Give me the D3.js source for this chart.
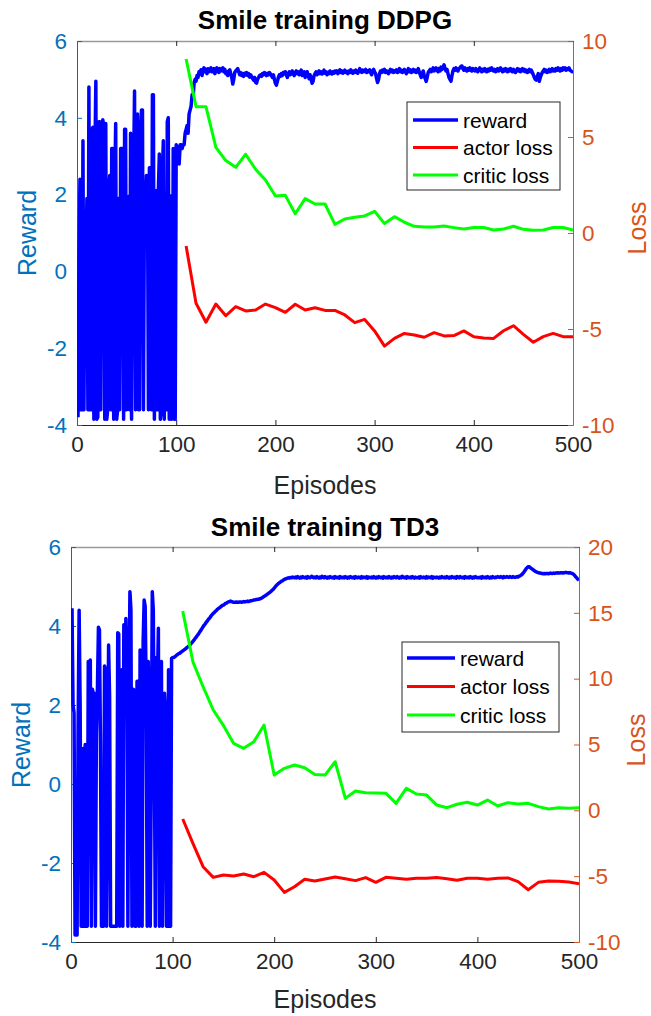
<!DOCTYPE html>
<html><head><meta charset="utf-8">
<script src="https://cdn.jsdelivr.net/npm/d3@7"></script>
<style>body{margin:0;background:#fff}svg{display:block}</style>
</head><body>
<svg id="c" width="651" height="1016"></svg>
<script>
// ---------- DATA ----------
const titles = ["Smile training DDPG", "Smile training TD3"];
const xLabel = "Episodes";
const yLeftLabel = "Reward";
const yRightLabel = "Loss";
const legendLabels = ["reward", "actor loss", "critic loss"];
const xTicks = [0, 100, 200, 300, 400, 500];
const rewardTicks = [-4, -2, 0, 2, 4, 6];
const ddpgLossTicks = [-10, -5, 0, 5, 10];
const td3LossTicks = [-10, -5, 0, 5, 10, 15, 20];

// reward per episode (episode 1..500)
const ddpgReward = [
-3.8,0.5,2.4,-3.6,-3.6,3.4,-3.6,1.0,0.4,1.9,-3.6,4.8,-3.6,-3.6,3.7,3.75,-3.85,2.9,4.95,-3.85,
-3.8,3.9,3.9,-3.6,2.9,3.95,3.8,-3.85,3.85,-3.85,-3.6,2.1,2.5,-3.6,3.2,3.2,-3.85,2.1,3.85,-3.85,
-3.6,1.9,-3.6,3.2,3.2,3.2,-3.85,3.7,3.7,-3.6,1.9,1.95,-3.6,3.6,-3.85,1.9,2.5,4.7,-3.6,2.0,
4.1,-3.6,-3.6,3.5,4.2,4.2,-3.6,1.9,1.8,2.5,2.45,-3.6,2.7,2.7,-3.6,4.6,4.6,-3.85,2.1,2.1,
-3.6,2.1,3.06,-3.85,-3.6,2.4,3.4,-3.85,2.0,-3.6,3.9,4.0,-3.85,1.97,-3.85,-3.6,3.2,-3.85,-3.85,3.3,
3.2,3.25,2.8,3.3,3.3,3.2,3.3,3.3,3.6,3.7,3.8,3.6,4.1,4.2,4.3,4.6,4.5,4.9,5.0,4.95,
5.10,5.05,5.20,5.15,5.25,5.10,5.22,5.30,5.20,5.26,5.15,5.28,5.20,5.25,5.30,5.20,5.26,5.28,5.15,5.22,
5.30,5.24,5.18,5.28,5.22,5.25,5.30,5.20,5.26,5.15,5.20,5.10,5.22,5.25,5.15,5.05,4.88,5.00,5.18,5.22,
5.25,5.28,5.20,5.12,5.18,5.10,5.15,5.08,5.16,5.12,5.18,5.10,5.15,5.06,5.12,5.08,5.02,4.98,5.05,4.92,
4.90,5.00,5.05,5.10,5.12,5.08,5.15,5.12,5.18,5.14,5.10,5.16,5.12,5.18,5.14,5.10,5.05,5.12,5.00,4.90,
4.85,4.95,5.05,5.12,5.08,5.15,5.10,5.18,5.14,5.20,5.12,5.05,5.15,5.20,5.12,5.18,5.22,5.14,5.10,5.18,
5.22,5.15,5.20,5.12,5.18,5.24,5.10,5.16,5.20,5.05,5.14,5.20,5.10,5.02,5.12,5.00,4.90,4.95,5.10,5.15,
5.20,5.12,5.18,5.22,5.15,5.20,5.14,5.18,5.24,5.16,5.20,5.12,5.18,5.15,5.22,5.18,5.14,5.20,5.16,5.22,
5.18,5.22,5.15,5.20,5.25,5.18,5.22,5.16,5.20,5.24,5.18,5.20,5.15,5.22,5.18,5.25,5.20,5.16,5.22,5.18,
5.24,5.20,5.16,5.22,5.28,5.20,5.18,5.24,5.20,5.22,5.26,5.18,5.22,5.20,5.25,5.18,5.12,5.22,5.26,5.20,
5.15,5.02,4.92,5.00,5.15,5.22,5.18,5.24,5.20,5.26,5.18,5.22,5.20,5.15,5.22,5.26,5.20,5.24,5.18,5.22,
5.20,5.25,5.18,5.22,5.28,5.20,5.24,5.18,5.22,5.26,5.20,5.15,5.22,5.28,5.20,5.25,5.18,5.22,5.26,5.20,
5.24,5.18,5.22,5.28,5.20,5.12,5.05,5.15,5.22,5.10,5.02,4.95,5.05,5.18,5.22,5.26,5.20,5.24,5.30,5.22,
5.26,5.30,5.24,5.20,5.28,5.22,5.32,5.26,5.30,5.38,5.28,5.22,5.26,5.15,5.05,5.00,4.95,5.10,5.22,5.28,
5.24,5.30,5.26,5.22,5.28,5.30,5.34,5.35,5.28,5.24,5.30,5.26,5.22,5.28,5.24,5.30,5.26,5.22,5.28,5.25,
5.22,5.28,5.24,5.20,5.26,5.30,5.24,5.20,5.26,5.22,5.28,5.24,5.20,5.26,5.22,5.28,5.24,5.30,5.26,5.22,
5.26,5.20,5.24,5.28,5.22,5.26,5.30,5.24,5.20,5.26,5.22,5.28,5.24,5.20,5.26,5.22,5.28,5.24,5.20,5.26,
5.22,5.18,5.24,5.28,5.22,5.26,5.20,5.24,5.28,5.22,5.26,5.20,5.24,5.18,5.22,5.26,5.20,5.24,5.18,5.12,
5.05,5.00,4.98,5.08,5.15,4.95,5.05,5.12,5.18,5.22,5.26,5.20,5.24,5.18,5.22,5.26,5.20,5.24,5.28,5.22,
5.26,5.22,5.28,5.24,5.30,5.26,5.22,5.28,5.24,5.30,5.26,5.30,5.24,5.28,5.26,5.30,5.24,5.22,5.20,5.22
];

const td3Reward = [
4.45,2.0,1.8,-3.82,-3.82,-3.82,1.4,4.4,2.0,-3.6,-3.6,0.9,-3.6,1.0,-3.6,-3.6,3.1,2.2,3.14,-3.6,
2.4,2.3,2.3,-3.6,1.3,2.4,3.97,3.9,1.0,-3.6,0.2,-3.6,2.99,2.9,-3.6,0.2,3.52,2.2,-3.6,-3.6,
-3.6,-3.6,-3.6,-3.6,-3.6,3.83,3.8,-3.6,0.5,2.89,-3.6,4.03,2.2,4.19,2.7,-3.6,2.5,4.87,4.4,-3.6,
2.4,2.38,-3.6,-3.6,2.6,2.6,-3.6,3.39,2.6,-3.6,3.6,4.66,4.5,2.4,-3.6,3.1,1.9,-3.6,0.2,4.87,
4.4,1.0,-3.6,3.2,2.5,3.94,-3.6,-0.32,3.1,-3.6,0.1,2.3,1.8,-3.6,-3.6,2.89,-3.6,-3.6,3.18,3.2,
3.20,3.22,3.24,3.26,3.28,3.30,3.31,3.33,3.35,3.37,3.39,3.41,3.43,3.45,3.47,3.49,3.52,3.55,3.58,3.61,
3.64,3.68,3.71,3.75,3.78,3.82,3.86,3.90,3.94,3.98,4.02,4.05,4.09,4.12,4.16,4.19,4.22,4.26,4.29,4.32,
4.34,4.37,4.39,4.42,4.44,4.46,4.48,4.50,4.52,4.53,4.55,4.57,4.58,4.60,4.61,4.62,4.63,4.62,4.61,4.60,
4.60,4.60,4.61,4.60,4.60,4.61,4.61,4.60,4.61,4.62,4.61,4.62,4.62,4.63,4.62,4.63,4.64,4.64,4.65,4.66,
4.66,4.67,4.67,4.68,4.68,4.69,4.70,4.71,4.73,4.75,4.76,4.78,4.80,4.82,4.84,4.86,4.88,4.91,4.93,4.96,
4.99,5.02,5.05,5.07,5.09,5.11,5.13,5.14,5.16,5.18,5.19,5.20,5.21,5.22,5.21,5.23,5.22,5.24,5.23,5.22,
5.24,5.22,5.25,5.23,5.21,5.24,5.22,5.25,5.23,5.22,5.24,5.21,5.25,5.23,5.22,5.24,5.26,5.23,5.22,5.24,
5.22,5.25,5.23,5.21,5.24,5.22,5.26,5.23,5.22,5.25,5.23,5.21,5.24,5.22,5.25,5.23,5.22,5.24,5.21,5.25,
5.23,5.22,5.24,5.21,5.25,5.23,5.22,5.24,5.22,5.25,5.23,5.21,5.24,5.22,5.25,5.23,5.22,5.24,5.21,5.25,
5.23,5.22,5.24,5.23,5.21,5.25,5.22,5.24,5.23,5.22,5.25,5.21,5.24,5.23,5.22,5.24,5.22,5.25,5.23,5.21,
5.24,5.22,5.25,5.23,5.22,5.24,5.21,5.25,5.23,5.22,5.24,5.22,5.25,5.23,5.21,5.24,5.22,5.25,5.23,5.22,
5.25,5.23,5.21,5.24,5.22,5.26,5.23,5.22,5.24,5.21,5.25,5.23,5.22,5.24,5.22,5.25,5.23,5.21,5.24,5.22,
5.22,5.24,5.21,5.25,5.23,5.22,5.24,5.23,5.21,5.25,5.22,5.24,5.23,5.22,5.25,5.21,5.24,5.23,5.22,5.24,
5.23,5.21,5.24,5.22,5.25,5.23,5.22,5.24,5.22,5.25,5.23,5.21,5.24,5.22,5.25,5.23,5.22,5.24,5.21,5.25,
5.24,5.22,5.25,5.23,5.22,5.24,5.21,5.25,5.23,5.22,5.24,5.22,5.25,5.23,5.21,5.24,5.22,5.25,5.23,5.22,
5.23,5.22,5.24,5.21,5.25,5.23,5.22,5.24,5.22,5.25,5.23,5.21,5.24,5.22,5.25,5.23,5.22,5.24,5.23,5.25,
5.24,5.23,5.25,5.24,5.22,5.25,5.23,5.24,5.25,5.24,5.23,5.25,5.24,5.23,5.25,5.24,5.23,5.24,5.25,5.24,
5.26,5.27,5.29,5.31,5.34,5.37,5.41,5.45,5.48,5.50,5.50,5.48,5.46,5.44,5.42,5.40,5.38,5.37,5.36,5.35,
5.34,5.34,5.33,5.33,5.32,5.33,5.32,5.33,5.33,5.32,5.33,5.34,5.33,5.33,5.34,5.33,5.34,5.34,5.35,5.34,
5.34,5.35,5.35,5.34,5.35,5.35,5.36,5.35,5.35,5.34,5.35,5.34,5.33,5.32,5.30,5.27,5.24,5.21,5.18,5.16
];

// losses, logged every 10 episodes
const lossEpisodes = [110,120,130,140,150,160,170,180,190,200,210,220,230,240,250,260,270,280,290,300,
                      310,320,330,340,350,360,370,380,390,400,410,420,430,440,450,460,470,480,490,500];
const ddpgActorLoss = [-0.68,-3.66,-4.65,-3.70,-4.31,-3.84,-4.06,-4.01,-3.70,-3.89,-4.13,-3.71,-4.01,-3.89,-4.03,-4.03,-4.27,-4.67,-4.50,-5.10,
                       -5.89,-5.49,-5.23,-5.31,-5.43,-5.19,-5.36,-5.34,-5.10,-5.40,-5.47,-5.49,-5.09,-4.83,-5.28,-5.69,-5.40,-5.23,-5.40,-5.40];
const ddpgCriticLoss = [9.06,6.58,6.58,4.46,3.77,3.42,4.10,3.32,2.76,1.93,1.96,1.00,1.79,1.51,1.51,0.45,0.73,0.82,0.89,1.13,
                        0.49,0.85,0.56,0.35,0.31,0.31,0.36,0.28,0.21,0.29,0.29,0.16,0.21,0.35,0.19,0.14,0.16,0.29,0.29,0.16];
const td3ActorLoss = [-0.66,-2.51,-4.28,-5.09,-4.91,-4.99,-4.84,-5.04,-4.71,-5.29,-6.23,-5.80,-5.24,-5.37,-5.21,-5.06,-5.19,-5.34,-5.11,-5.47,
                      -5.09,-5.16,-5.24,-5.16,-5.16,-5.11,-5.19,-5.31,-5.16,-5.16,-5.24,-5.16,-5.13,-5.42,-6.03,-5.47,-5.37,-5.39,-5.44,-5.57];
const td3CriticLoss = [15.13,11.28,9.39,7.62,6.45,5.09,4.71,5.21,6.48,2.68,3.19,3.44,3.24,2.73,2.68,3.69,0.91,1.47,1.34,1.31,
                       1.29,0.53,1.67,1.24,1.16,0.40,0.20,0.46,0.61,0.40,0.78,0.33,0.58,0.48,0.53,0.28,0.10,0.20,0.15,0.20];

// ---------- DRAW ----------
const FONT = "'Liberation Sans', Arial, Helvetica, sans-serif";
const BLUE_AX = "#0072BD", ORANGE_AX = "#D95319", DARK = "#262626";
const svg = d3.select("#c");
const fmt = d => String(d);   // plain hyphen-minus as in the original

const panels = [
  { L:77, R:573, T:41, B:425, title:titles[0], titleY:29, xlabY:494,
    rewLab:[36,233], lossLab:[646,228], lossDomain:[-10,10], lossTicks:ddpgLossTicks,
    reward:ddpgReward, actor:ddpgActorLoss, critic:ddpgCriticLoss,
    leg:{x:407,y:102,w:153,h:88,l1:413,l2:458,tx:463,rows:[120,147.5,175]} },
  { L:71, R:579, T:547, B:942, title:titles[1], titleY:536, xlabY:1008,
    rewLab:[30,745], lossLab:[645,740], lossDomain:[-10,20], lossTicks:td3LossTicks,
    reward:td3Reward, actor:td3ActorLoss, critic:td3CriticLoss,
    leg:{x:402,y:642,w:157,h:90,l1:407,l2:455,tx:460,rows:[658,686.5,715]} }
];

panels.forEach((p, i) => {
  const g = svg.append("g");
  const x = d3.scaleLinear().domain([0, 500]).range([p.L, p.R]);
  const yL = d3.scaleLinear().domain([-4, 6]).range([p.B, p.T]);
  const yR = d3.scaleLinear().domain(p.lossDomain).range([p.B, p.T]);

  const clipId = "clip" + i;
  svg.append("clipPath").attr("id", clipId).append("rect")
    .attr("x", p.L).attr("y", p.T).attr("width", p.R - p.L).attr("height", p.B - p.T);

  // top box line with ticks
  const topAx = g.append("g").attr("transform", `translate(0,${p.T})`)
    .call(d3.axisTop(x).tickValues(xTicks).tickSizeInner(-5).tickSizeOuter(0).tickFormat(""));
  topAx.select(".domain").attr("stroke", "#9a9a9a").attr("stroke-width", 1.5);
  topAx.selectAll(".tick line").attr("stroke", DARK);

  // bottom axis
  const botAx = g.append("g").attr("transform", `translate(0,${p.B})`)
    .call(d3.axisBottom(x).tickValues(xTicks).tickSizeInner(-5).tickSizeOuter(0).tickPadding(11).tickFormat(fmt));
  botAx.select(".domain").attr("stroke", DARK);
  botAx.selectAll(".tick line").attr("stroke", DARK);
  botAx.selectAll("text").attr("fill", DARK).style("font-family", FONT).style("font-size", "22.5px");

  // left axis
  const lAx = g.append("g").attr("transform", `translate(${p.L},0)`)
    .call(d3.axisLeft(yL).tickValues(rewardTicks).tickSizeInner(-5).tickSizeOuter(0).tickPadding(10).tickFormat(fmt));
  lAx.select(".domain").attr("stroke", BLUE_AX);
  lAx.selectAll(".tick line").attr("stroke", BLUE_AX);
  lAx.selectAll("text").attr("fill", BLUE_AX).style("font-family", FONT).style("font-size", "22.5px");

  // right axis
  const rAx = g.append("g").attr("transform", `translate(${p.R},0)`)
    .call(d3.axisRight(yR).tickValues(p.lossTicks).tickSizeInner(-5).tickSizeOuter(0).tickPadding(9).tickFormat(fmt));
  rAx.select(".domain").attr("stroke", ORANGE_AX);
  rAx.selectAll(".tick line").attr("stroke", ORANGE_AX);
  rAx.selectAll("text").attr("fill", ORANGE_AX).style("font-family", FONT).style("font-size", "22.5px");

  // lines
  const plot = g.append("g").attr("clip-path", `url(#${clipId})`);
  const rewLine = d3.line().x((d, k) => x(k + 1)).y(d => yL(d));
  const lossLine = d3.line().x((d, k) => x(lossEpisodes[k])).y(d => yR(d));
  plot.append("path").datum(p.reward).attr("d", rewLine)
    .attr("fill", "none").attr("stroke", "#0000FF").attr("stroke-width", 3.5).attr("stroke-linejoin", "round");
  plot.append("path").datum(p.actor).attr("d", lossLine)
    .attr("fill", "none").attr("stroke", "#FF0000").attr("stroke-width", 3).attr("stroke-linejoin", "round");
  plot.append("path").datum(p.critic).attr("d", lossLine)
    .attr("fill", "none").attr("stroke", "#00FF00").attr("stroke-width", 3).attr("stroke-linejoin", "round");

  // title
  g.append("text").attr("x", (p.L + p.R) / 2).attr("y", p.titleY).attr("text-anchor", "middle")
    .style("font-family", FONT).style("font-weight", "bold").style("font-size", "26px").attr("fill", "#000")
    .text(p.title);
  // x label
  g.append("text").attr("x", (p.L + p.R) / 2).attr("y", p.xlabY).attr("text-anchor", "middle")
    .style("font-family", FONT).style("font-size", "25px").attr("fill", DARK).text(xLabel);
  // y labels
  g.append("text").attr("transform", `translate(${p.rewLab[0]},${p.rewLab[1]}) rotate(-90)`)
    .attr("text-anchor", "middle").style("font-family", FONT).style("font-size", "25px")
    .attr("fill", BLUE_AX).text(yLeftLabel);
  g.append("text").attr("transform", `translate(${p.lossLab[0]},${p.lossLab[1]}) rotate(-90)`)
    .attr("text-anchor", "middle").style("font-family", FONT).style("font-size", "25px")
    .attr("fill", ORANGE_AX).text(yRightLabel);

  // legend
  const lg = g.append("g");
  lg.append("rect").attr("x", p.leg.x).attr("y", p.leg.y).attr("width", p.leg.w).attr("height", p.leg.h)
    .attr("fill", "#fff").attr("stroke", DARK).attr("stroke-width", 1);
  const cols = ["#0000FF", "#FF0000", "#00FF00"];
  legendLabels.forEach((lab, k) => {
    const yy = p.leg.rows[k];
    lg.append("line").attr("x1", p.leg.l1).attr("x2", p.leg.l2).attr("y1", yy).attr("y2", yy)
      .attr("stroke", cols[k]).attr("stroke-width", k === 0 ? 3.5 : 3);
    lg.append("text").attr("x", p.leg.tx).attr("y", yy + 7.5)
      .style("font-family", FONT).style("font-size", "21px").attr("fill", "#000").text(lab);
  });
});
</script>
</body></html>
